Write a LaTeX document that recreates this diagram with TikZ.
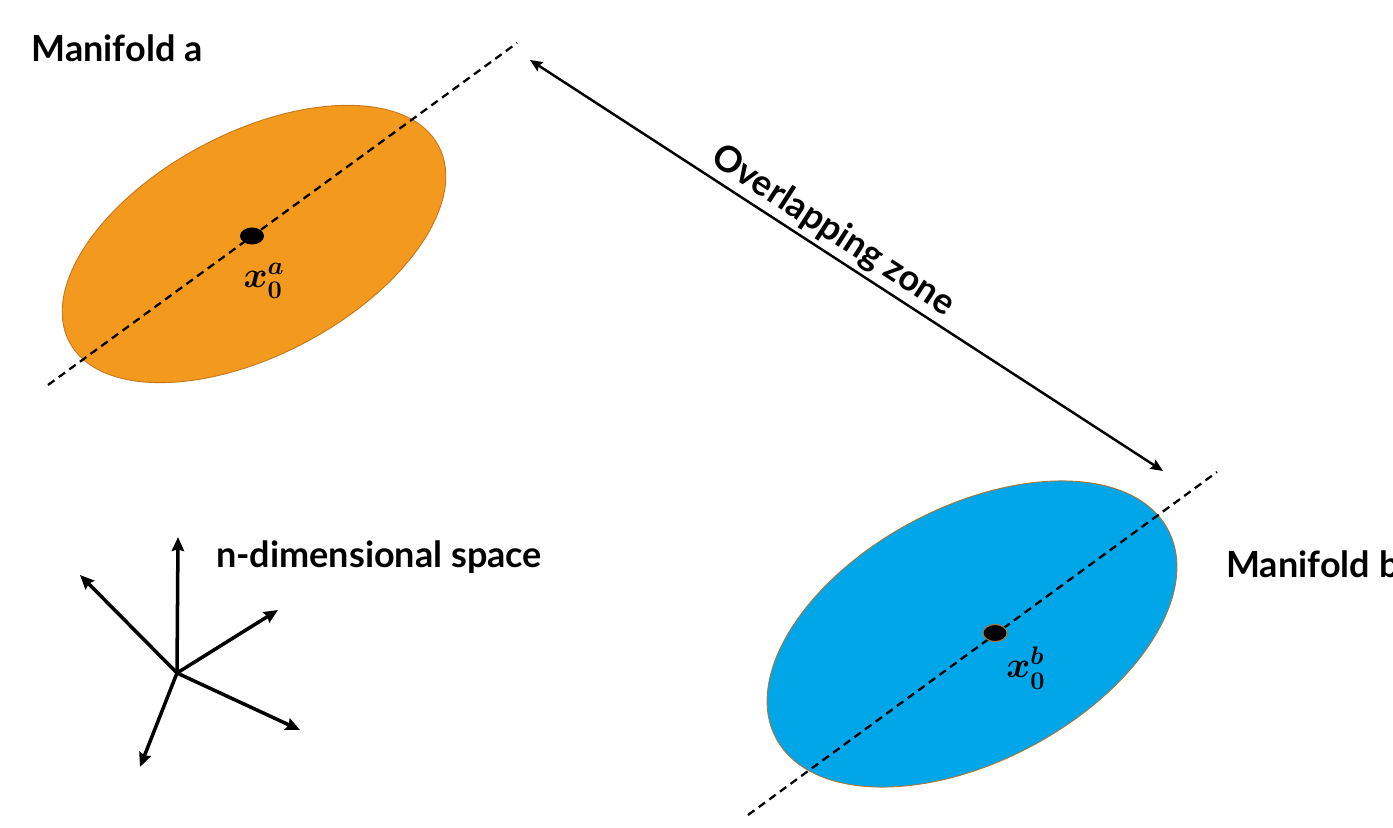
\documentclass[tikz,border=0pt]{standalone}
\usepackage{fontspec}
\setmainfont{Lato}
\usepackage{amsmath}
\usepackage{tikz}
\usetikzlibrary{
  arrows.meta,
  positioning,
  calc,
  shapes.geometric
}

\definecolor{laranja}{RGB}{243,153,30}
\definecolor{laranjaborda}{RGB}{196,118,28}
\definecolor{azul}{RGB}{0,166,232}
\definecolor{azulborda}{RGB}{176,116,48}

\begin{document}
\begin{tikzpicture}[
variedade/.style={
ellipse,
line width=0.5pt,
rotate=28,
inner sep=0pt
},
ponto/.style={
ellipse,
fill=black,
minimum width=0.48cm,
minimum height=0.34cm,
inner sep=0pt
},
eixo/.style={line width=1.3pt,dash pattern=on 4.5pt off 3pt},
vetor/.style={-{Stealth[length=8pt,width=7pt,inset=1pt]},line width=2pt},
dupla/.style={{Stealth[length=7pt,width=6pt,inset=1pt]}-{Stealth[length=7pt,width=6pt,inset=1pt]},line width=1.4pt},
rotulo/.style={font=\fontsize{20.5}{24}\selectfont\bfseries,inner sep=0pt},
indice/.style={font=\fontsize{20}{24}\selectfont,inner sep=0pt}
]

\useasboundingbox (0,0) rectangle (27.86,16.54);

% variedade a
\node[variedade,fill=laranja,draw=laranjaborda,
minimum width=8.36cm,minimum height=4.44cm] (varA) at (5.08,11.66) {};
\coordinate (eixoA1) at (0.96,8.84);
\coordinate (eixoA2) at (10.34,15.68);
\draw[eixo] (eixoA1) -- (eixoA2);
\node[ponto] (dotA) at (5.04,11.82) {};
\node[indice] (lblA) at ($(dotA)+(0.24,-0.90)$) {$\boldsymbol{x_0^a}$};
\node[rotulo] (nomeA) at (2.34,15.58) {Manifold a};

% variedade b
\node[variedade,fill=azul,draw=azulborda,
minimum width=8.88cm,minimum height=5.08cm] (varB) at (19.44,3.86) {};
\coordinate (eixoB1) at (14.96,0.24);
\coordinate (eixoB2) at (24.34,7.10);
\draw[eixo] (eixoB1) -- (eixoB2);
\node[ponto,draw=azulborda,line width=0.6pt] (dotB) at (19.90,3.88) {};
\node[indice] (lblB) at ($(dotB)+(0.62,-0.70)$) {$\boldsymbol{x_0^b}$};
\node[rotulo,anchor=west] (nomeB) at (24.52,5.26) {Manifold b};

% zona de sobreposicao
\coordinate (zonaA) at (10.60,15.34);
\coordinate (zonaB) at (23.26,7.12);
\draw[dupla] (zonaA) -- node[rotulo,sloped,above=2pt,pos=0.46] (zona) {Overlapping zone} (zonaB);

% espaco n-dimensional
\coordinate (orig) at (3.54,3.08);
\coordinate (e1) at (3.56,5.80);
\coordinate (e2) at (1.60,5.04);
\coordinate (e3) at (5.56,4.34);
\coordinate (e4) at (6.00,1.94);
\coordinate (e5) at (2.80,1.20);
\foreach \e in {e1,e2,e3,e4,e5}
\draw[vetor] (orig) -- (\e);
\node[rotulo] (espaco) at (7.58,5.40) {n-dimensional space};

\end{tikzpicture}
\end{document}
